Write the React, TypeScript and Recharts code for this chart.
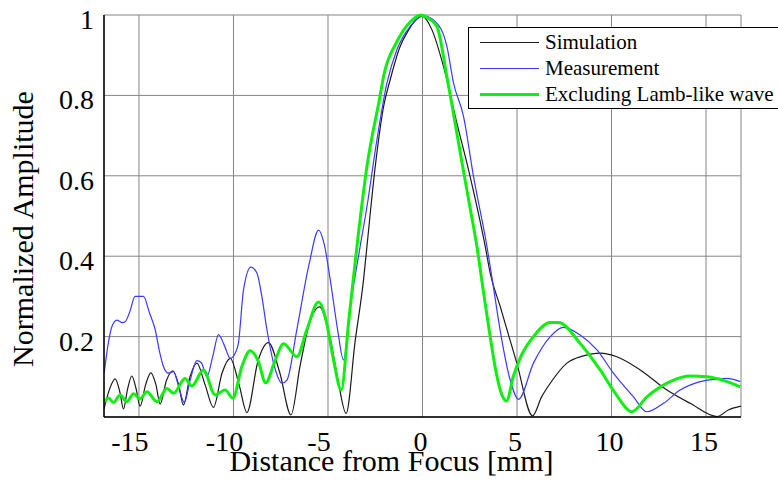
import { CartesianGrid, Legend, Line, LineChart, XAxis, YAxis } from 'recharts';

const FONT = "'Liberation Serif', 'DejaVu Serif', serif";

const xTicks = [-15, -10, -5, 0, 5, 10, 15];
const yTicks = [0.2, 0.4, 0.6, 0.8, 1];

// Simulation (black)
const simX = [
  -16.85, -16.55, -16.26, -16.0, -15.82, -15.6, -15.38, -15.15, -14.94, -14.65, -14.37, -14.1, -13.88,
  -13.55, -13.21, -12.9, -12.65, -12.3, -11.94, -11.5, -11.06, -10.6, -10.17, -9.7, -9.29, -8.7, -8.15,
  -7.55, -6.96, -6.47, -6.0, -5.45, -4.9, -4.5, -4.04, -3.56, -3.12, -2.94, -2.5, -2.06, -1.71, -1.2,
  -0.83, -0.4, -0.03, 0.5, 1.11, 1.82, 2.52, 3.32, 3.58, 4.11, 4.99, 5.82, 6.3, 6.76, 7.64, 8.52, 9.4,
  10.28, 11.52, 12.93, 14.16, 15.58, 16.2, 16.85,
];
const simY = [
  0.02, 0.07, 0.095, 0.06, 0.02, 0.07, 0.102, 0.07, 0.027, 0.08, 0.11, 0.08, 0.032,
  0.09, 0.115, 0.08, 0.03, 0.1, 0.134, 0.08, 0.024, 0.11, 0.146, 0.08, 0.011, 0.14, 0.185,
  0.11, 0.005, 0.129, 0.23, 0.274, 0.2, 0.1, 0.009, 0.19, 0.341, 0.424, 0.623, 0.772, 0.839, 0.92,
  0.955, 0.985, 0.997, 0.963, 0.872, 0.731, 0.598, 0.424, 0.358, 0.275, 0.134, 0.003, 0.05, 0.084, 0.134, 0.152, 0.159,
  0.15, 0.117, 0.067, 0.034, 0.001, 0.018, 0.027,
];

// Measurement (blue)
const measX = [
  -16.84, -16.6, -16.43, -16.17, -15.9, -15.73, -15.5, -15.2, -14.76, -14.45, -14.14, -13.9, -13.7,
  -13.44, -13.17, -12.9, -12.6, -12.3, -11.94, -11.7, -11.41, -11.1, -10.79, -10.5, -10.17, -9.9,
  -9.74, -9.47, -9.08, -8.76, -8.5, -8.23, -7.8, -7.44, -7.17, -6.65, -6.0, -5.5, -5.2, -4.88, -4.5,
  -4.18, -3.8, -3.3, -2.94, -2.41, -1.88, -1.35, -0.65, 0.05, 0.67, 1.29, 1.64, 2.17, 2.7, 3.41, 3.73,
  4.11, 4.64, 5.08, 5.87, 6.76, 7.46, 8.34, 9.23, 10.1, 11.16, 11.87, 12.75, 13.63, 14.69, 15.5, 16.1, 16.81,
];
const measY = [
  0.11, 0.19, 0.225, 0.241, 0.235, 0.237, 0.26, 0.3, 0.3, 0.26, 0.217, 0.16, 0.125,
  0.109, 0.113, 0.075, 0.036, 0.09, 0.14, 0.135, 0.1, 0.15, 0.205, 0.18, 0.146, 0.16,
  0.183, 0.316, 0.373, 0.358, 0.3, 0.217, 0.12, 0.084, 0.092, 0.217, 0.38, 0.465, 0.43, 0.341, 0.22,
  0.142, 0.28, 0.424, 0.523, 0.69, 0.831, 0.914, 0.972, 0.998, 0.984, 0.922, 0.831, 0.748, 0.598, 0.424, 0.33,
  0.215, 0.092, 0.044, 0.134, 0.2, 0.223, 0.204, 0.167, 0.109, 0.05, 0.013, 0.034, 0.067, 0.088, 0.094, 0.096, 0.088,
];

// Excluding Lamb-like wave (green)
const exclX = [
  -16.84, -16.6, -16.35, -16.0, -15.64, -15.29, -14.95, -14.58, -14.05, -13.52, -13.17, -12.56, -12.2,
  -11.59, -10.97, -10.44, -10.03, -9.56, -9.12, -8.68, -8.3, -7.8, -7.35, -6.65, -6.12, -5.5, -5.1,
  -4.7, -4.3, -3.9, -3.47, -2.94, -2.24, -2.06, -1.35, -0.6, -0.12, 0.3, 0.76, 1.29, 1.6, 2.1, 2.5,
  2.88, 3.23, 3.58, 3.9, 4.2, 4.45, 4.8, 5.2, 5.87, 6.76, 7.2, 8.34, 9.4, 10.2, 11.08, 11.87, 13.1,
  14.16, 15.05, 16.0, 16.81,
];
const exclY = [
  0.038, 0.047, 0.036, 0.055, 0.038, 0.058, 0.045, 0.063, 0.038, 0.071, 0.059, 0.096, 0.077,
  0.117, 0.055, 0.067, 0.047, 0.125, 0.165, 0.138, 0.085, 0.14, 0.182, 0.15, 0.217, 0.286, 0.24,
  0.14, 0.067, 0.24, 0.424, 0.623, 0.8, 0.847, 0.934, 0.985, 1.0, 0.992, 0.972, 0.847, 0.765, 0.63, 0.525,
  0.424, 0.31, 0.2, 0.11, 0.055, 0.04, 0.1, 0.15, 0.2, 0.235, 0.235, 0.183, 0.117, 0.059, 0.013, 0.05, 0.088,
  0.102, 0.1, 0.09, 0.075,
];

const toPoints = (xs: number[], ys: number[]) => xs.map((x, i) => ({ x, y: ys[i] }));

const seriesList = [
  { name: 'Simulation', data: toPoints(simX, simY), color: '#1a1a1a', width: 1.2 },
  { name: 'Measurement', data: toPoints(measX, measY), color: '#3a3aff', width: 1.2 },
  { name: 'Excluding Lamb-like wave', data: toPoints(exclX, exclY), color: '#11ee11', width: 3 },
];

function XTick({ x, y, payload }: any) {
  const shift = payload.value < 0 ? -9 : -2;
  return (
    <text x={x + shift} y={y} dy={26} textAnchor="middle" fontFamily={FONT} fontSize={28} fill="#000">
      {payload.value}
    </text>
  );
}

function YTick({ x, y, payload }: any) {
  return (
    <text x={x - 2} y={y} dy={14} textAnchor="end" fontFamily={FONT} fontSize={28} fill="#000">
      {payload.value}
    </text>
  );
}

function LegendBox() {
  return (
    <div
      style={{
        border: '1px solid #000',
        background: '#fff',
        width: 330,
        height: 82,
        boxSizing: 'border-box',
        paddingTop: 1,
        fontFamily: FONT,
        fontSize: 21,
      }}
    >
      {seriesList.map((s) => (
        <div key={s.name} style={{ display: 'flex', alignItems: 'center', height: 26 }}>
          <div style={{ marginLeft: 11, width: 59, height: 0, borderTop: `${s.width === 3 ? 3 : 1.5}px solid ${s.color}` }} />
          <span style={{ marginLeft: 6, lineHeight: '26px', whiteSpace: 'nowrap' }}>{s.name}</span>
        </div>
      ))}
    </div>
  );
}

export default function App() {
  return (
    <div style={{ position: 'fixed', left: 0, top: 0, width: 778, height: 488, overflow: 'hidden', background: '#fff' }}>
      <LineChart width={778} height={488} margin={{ top: 15, right: 37, left: 0, bottom: 0 }}>
        <CartesianGrid stroke="#858585" strokeWidth={1} />
        <XAxis
          type="number"
          dataKey="x"
          domain={[-16.85, 16.85]}
          allowDataOverflow
          ticks={xTicks}
          height={71}
          tickLine={false}
          axisLine={{ stroke: '#000', strokeWidth: 1.5 }}
          tick={<XTick />}
          label={{
            content: ({ viewBox }: any) => (
              <text
                x={viewBox.x + viewBox.width / 2 - 31}
                y={viewBox.y + 54}
                textAnchor="middle"
                fontFamily={FONT}
                fontSize={30}
                fill="#000"
              >
                Distance from Focus [mm]
              </text>
            ),
          }}
        />
        <YAxis
          type="number"
          domain={[0, 1]}
          ticks={yTicks}
          width={104}
          tickLine={false}
          axisLine={{ stroke: '#000', strokeWidth: 1.5 }}
          tick={<YTick />}
          label={{
            content: ({ viewBox }: any) => {
              const cx = 33;
              const cy = viewBox.y + viewBox.height / 2 + 13;
              return (
                <text
                  x={cx}
                  y={cy}
                  transform={`rotate(-90 ${cx} ${cy})`}
                  textAnchor="middle"
                  fontFamily={FONT}
                  fontSize={30}
                  fill="#000"
                >
                  Normalized Amplitude
                </text>
              );
            },
          }}
        />
        <Legend
          layout="horizontal"
          verticalAlign="middle"
          align="center"
          content={<LegendBox />}
          wrapperStyle={{ left: 468, top: 27, width: 330 }}
        />
        {seriesList.map((s) => (
          <Line
            key={s.name}
            name={s.name}
            data={s.data}
            dataKey="y"
            type="monotone"
            stroke={s.color}
            strokeWidth={s.width}
            dot={false}
            activeDot={false}
            isAnimationActive={false}
          />
        ))}
      </LineChart>
    </div>
  );
}
